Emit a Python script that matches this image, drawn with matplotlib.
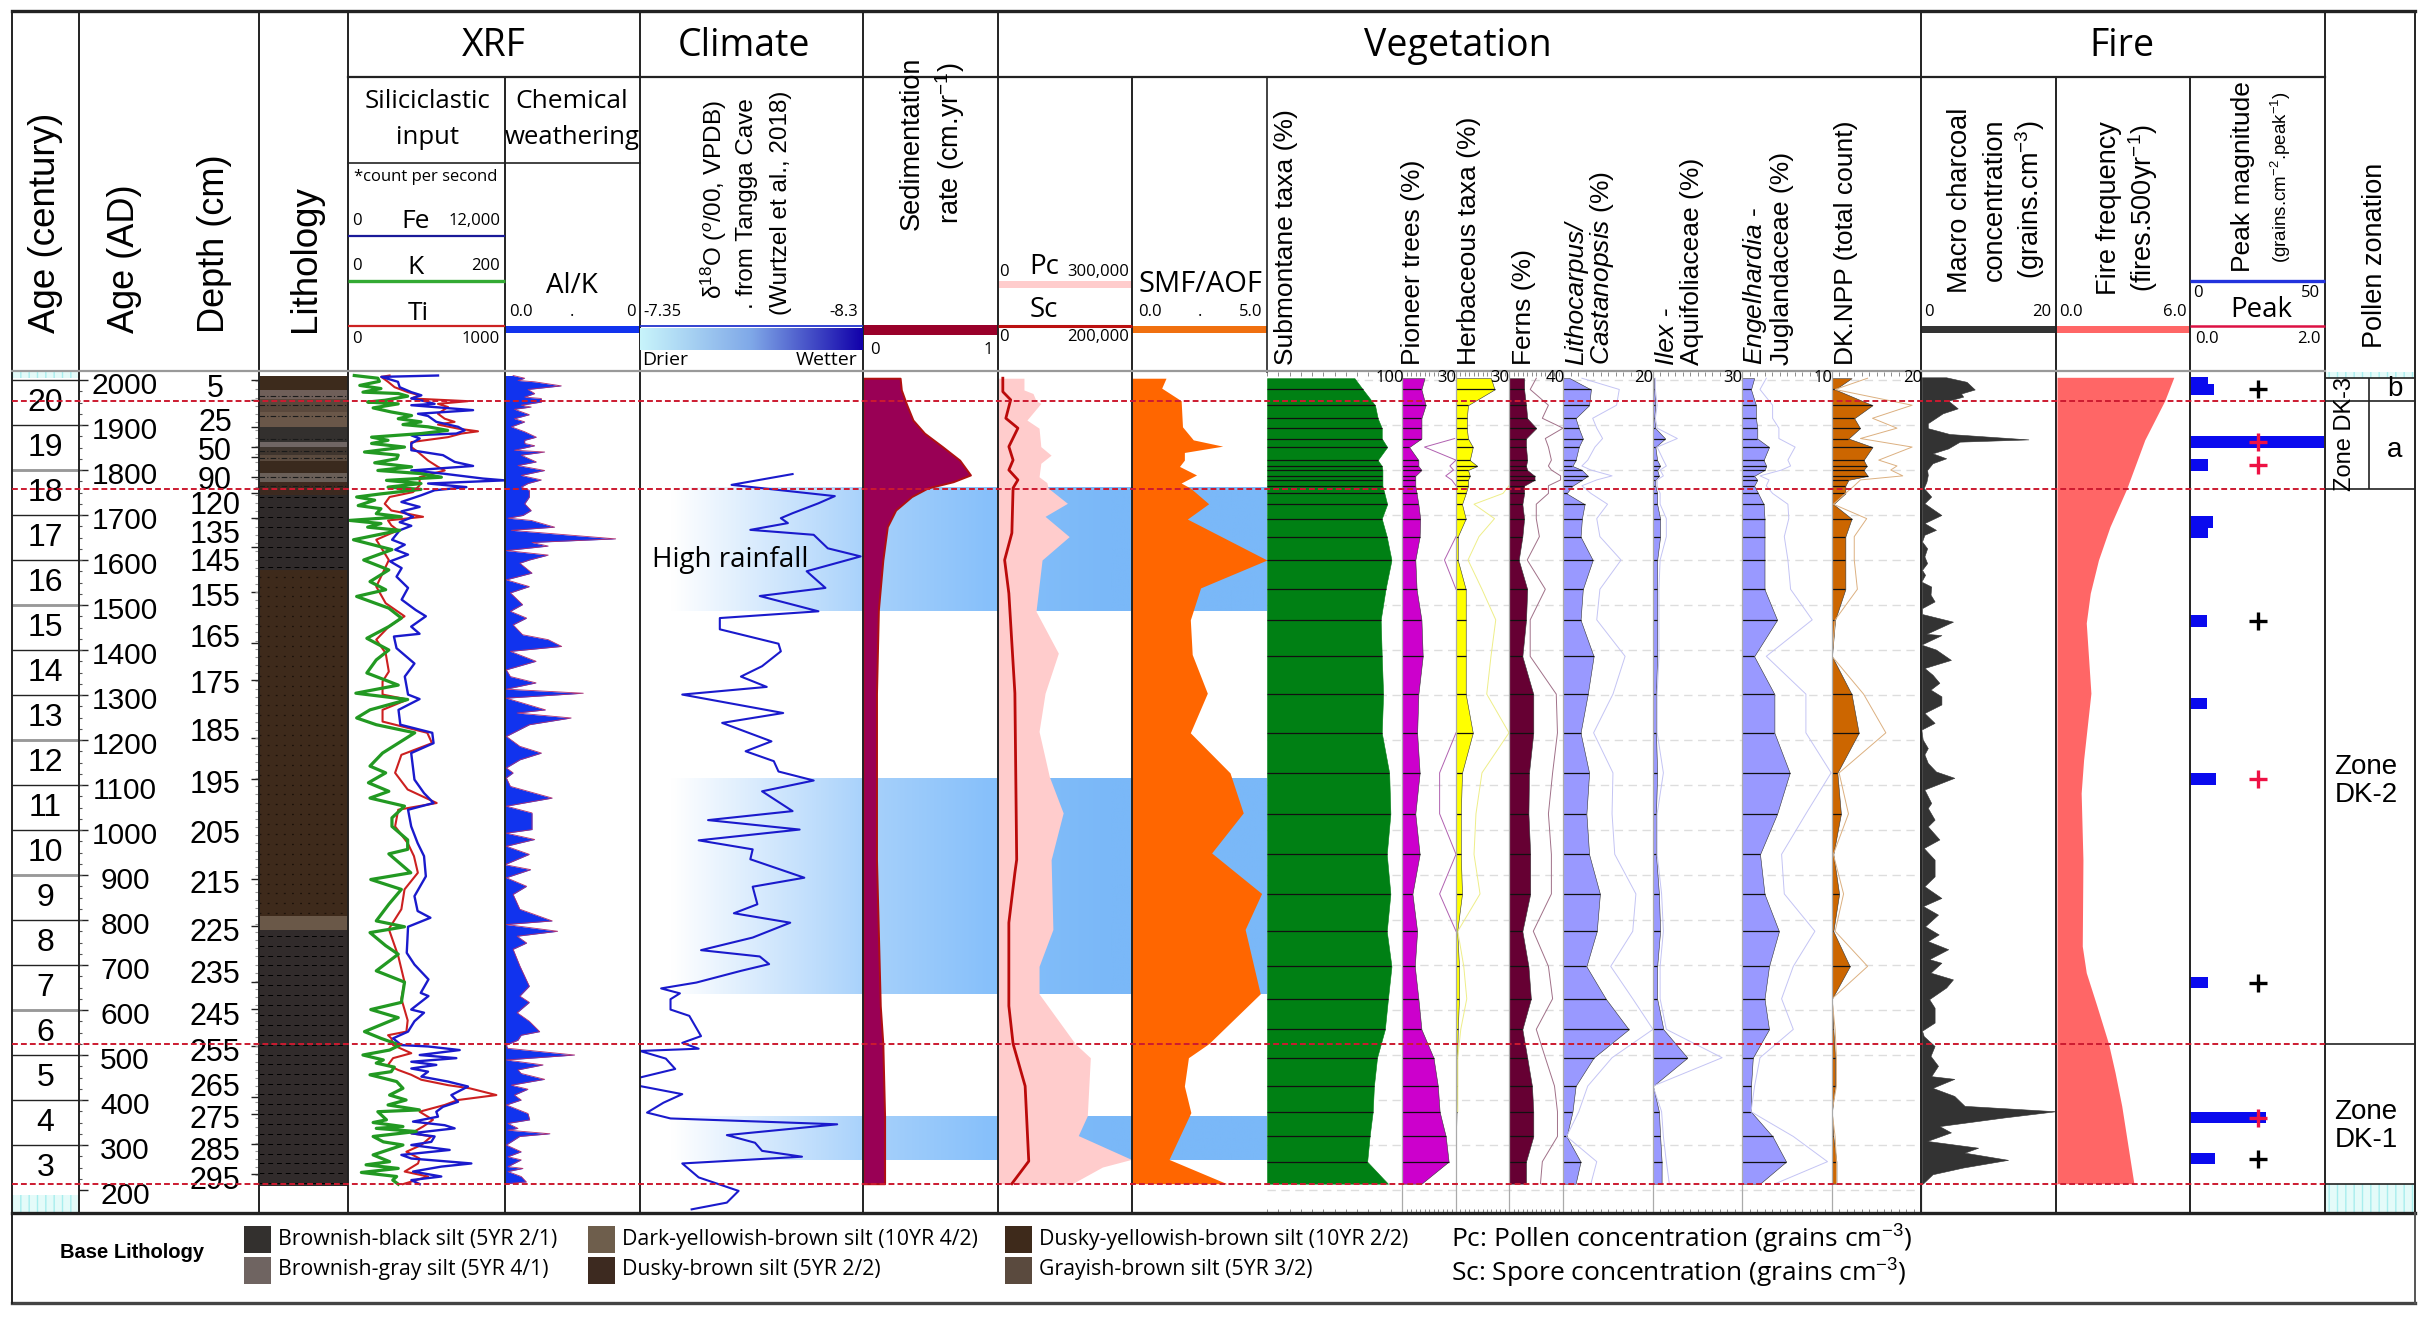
import numpy as np
import matplotlib
matplotlib.use('Agg')
import matplotlib.pyplot as plt
from matplotlib.colors import LinearSegmentedColormap
from matplotlib.patches import Rectangle

plt.rcParams['font.family'] = ['Open Sans', 'DejaVu Sans']
plt.rcParams['mathtext.fontset'] = 'custom'
plt.rcParams['mathtext.rm'] = 'Liberation Sans'
plt.rcParams['mathtext.it'] = 'Liberation Sans:italic'
plt.rcParams['mathtext.bf'] = 'Liberation Sans:bold'

W, H = 2423, 1319
AGE_TOP, AGE_BOTTOM = 2017.8, 148.9

# XRF
fe_age = [2010, 2007, 1996, 1984, 1973, 1966, 1959, 1953, 1947, 1944, 1933, 1925, 1920, 1907, 1896, 1888, 1881, 1877, 1870, 1859,
          1844, 1833, 1818, 1809, 1799, 1792, 1781, 1777, 1770, 1762, 1755, 1744, 1729, 1718, 1708, 1696, 1684, 1676, 1666,
          1645, 1634, 1623, 1612, 1597, 1582, 1563,
          1538, 1512, 1489, 1475, 1452, 1436, 1430, 1404, 1370, 1341, 1301, 1291, 1267, 1234, 1216, 1193, 1171, 1112, 1082, 1060,
          1045, 1008, 971, 942, 897, 853, 820, 805, 785, 727, 701, 668, 638, 631, 601, 594, 575,
          552, 537, 522, 519, 511, 500, 493, 485, 478, 470, 463, 452, 441, 430, 411, 396, 385, 374, 363, 352,
          344, 337, 326, 319, 307, 300, 289, 278, 270, 259, 252, 241, 230, 222, 213]
fe = [6880, 2550, 3820, 3950, 4840, 5610, 4840, 5860, 6620, 4840, 9560, 5350, 6120, 6750, 8410, 8920, 8280, 4840, 5480, 4840,
      4840, 7260, 8150, 9560, 4840, 7260, 10320, 11980, 6120, 9050, 6620, 5610, 4080, 5480, 4080, 4970, 3950, 4840, 3950,
      3370, 4340, 3610, 4590, 3220, 4100, 3710,
      4590, 4100, 5170, 5950, 4830, 5470, 3510, 3710, 5080, 4340, 4590, 5470, 3860, 4000, 6440, 6540, 4830, 5080, 5810, 6540,
      4590, 4830, 5320, 5810, 5950, 5080, 5320, 6300, 4590, 4490, 5080, 6150, 5560, 6150, 4830, 5810, 5080,
      4590, 3440, 4080, 6120, 8540, 5480, 8280, 4840, 6750, 4840, 6120, 5610, 7640, 9170, 7900, 8410, 7260, 6750, 6880, 4970,
      7390, 8150, 4840, 6620, 6370, 4840, 7770, 4080, 4840, 9430, 7130, 4970, 7130, 4840, 5480]

ti_age = [2010, 2007, 1996, 1984, 1973, 1966, 1959, 1953, 1947, 1940, 1925, 1914, 1907, 1901, 1892, 1886, 1881, 1873, 1862, 1851,
          1840, 1821, 1807, 1799, 1784, 1766, 1751, 1740, 1725, 1710, 1696, 1688, 1677, 1666,
          1645, 1600, 1570, 1541, 1504, 1475, 1452, 1423, 1393, 1352, 1330, 1301, 1290, 1267, 1241, 1216, 1193, 1167, 1127, 1090,
          1060, 1045, 1008, 971, 942, 905, 868, 824, 780, 720, 662, 625, 577,
          552, 544, 537, 522, 504, 493, 478, 467, 456, 445, 433, 426, 411, 400, 389, 374, 356, 341, 326, 319,
          300, 285, 270, 259, 241, 230, 213]
ti = [265, 212, 255, 297, 382, 456, 403, 764, 573, 637, 573, 616, 679, 573, 701, 828, 722, 637, 403, 403,
      446, 510, 573, 616, 456, 456, 414, 265, 234, 276, 478, 255, 276, 318,
      180, 260, 220, 180, 240, 360, 260, 180, 240, 260, 220, 220, 380, 220, 220, 505, 535, 340, 300, 380,
      565, 320, 300, 380, 420, 445, 360, 340, 260, 320, 360, 340, 380,
      372, 255, 276, 287, 403, 287, 255, 318, 403, 467, 637, 775, 945, 701, 616, 456, 541, 478, 403, 531,
      467, 372, 456, 446, 361, 510, 350]

k_age = [2010, 2004, 1997, 1988, 1981, 1973, 1970, 1964, 1955, 1951, 1947, 1938, 1929, 1921, 1914, 1907, 1901, 1896, 1888, 1881,
         1873, 1866, 1859, 1851, 1840, 1833, 1825, 1816, 1807, 1799, 1792, 1784, 1777, 1770, 1762, 1757, 1747, 1740, 1733, 1721,
         1714, 1703, 1696, 1688, 1681, 1673, 1666,
         1645, 1623, 1600, 1578, 1552, 1534, 1519, 1493, 1471, 1452, 1426, 1400, 1378, 1349, 1322, 1304, 1290,
         1267, 1249, 1234, 1216, 1171, 1142, 1127, 1105, 1086, 1071, 1053, 1027, 1008, 978, 957, 947, 905, 890, 868, 835,
         798, 785, 772, 743, 724, 687, 662, 617, 601, 583,
         552, 537, 522, 511, 500, 489, 482, 473, 463, 456, 441, 426, 411, 400, 389, 378, 374, 356, 350, 341,
         337, 330, 319, 307, 300, 278, 263, 256, 248, 239, 230, 222, 213]
k = [8, 38, 40, 15, 42, 19, 64, 76, 47, 25, 64, 32, 55, 81, 64, 93, 70, 102, 127, 93,
     30, 51, 30, 72, 21, 64, 62, 34, 81, 38, 93, 119, 49, 93, 51, 93, 42, 11, 34, 13,
     42, 36, 68, 2, 42, 25, 66,
     7, 56, 20, 52, 28, 48, 11, 52, 68, 52, 24, 52, 36, 24, 64, 10, 76,
     28, 11, 36, 85, 44, 28, 48, 26, 52, 28, 72, 56, 56, 76, 76, 52, 80, 29, 68, 52,
     36, 72, 28, 48, 64, 36, 72, 68, 29, 64,
     21, 42, 66, 53, 19, 45, 36, 59, 55, 28, 62, 70, 53, 74, 51, 91, 38, 49, 32, 70,
     36, 87, 32, 45, 70, 32, 53, 23, 64, 17, 62, 57, 64]

alk_age = [2010, 2004, 1999, 1996, 1987, 1979, 1970, 1962, 1959, 1951, 1944, 1940, 1935, 1923, 1914, 1907, 1896, 1885, 1873, 1866,
           1859, 1854, 1844, 1840, 1833, 1818, 1810, 1799, 1788, 1778, 1770, 1762, 1755, 1740, 1725, 1710, 1699, 1693, 1688, 1673, 1666,
           1647, 1639, 1631, 1621, 1611, 1600, 1593, 1571, 1556, 1541, 1527, 1501,
           1486, 1471, 1456, 1434, 1423, 1408, 1397, 1375, 1356, 1341, 1327, 1313, 1304, 1293, 1267, 1260, 1249, 1234, 1208, 1186,
           1171, 1156, 1138, 1127, 1116, 1097, 1071, 1053, 1038, 1001, 993, 979, 964, 946, 923, 912, 894, 875, 857, 824,
           798, 790, 775, 764, 749, 735, 698, 653, 631, 617, 594, 575,
           552, 544, 533, 522, 515, 500, 489, 478, 467, 459, 446, 433, 424, 411, 400, 389, 370, 356, 348, 337,
           333, 325, 319, 300, 285, 274, 267, 252, 248, 241, 230, 218, 214]
alk = [.06, .146, .096, .22, .417, .17, .22, .146, .269, .269, .12, .194, .07, .18, .07, .146, .047, .146, .232, .146,
       .146, .22, .07, .294, .12, .232, .096, .294, .12, .269, .17, .12, .18, .18, .146, .194, .133, .022, .194, .368, .047,
       .82, .20, .32, .01, .32, .18, .11, .20, .01, .18, .04, .13,
       .04, .16, .06, .13, .32, .42, .04, .23, .01, .04, .23, .01, .58, .01, .30, .09, .49, .18, .01, .11,
       .27, .11, .01, .06, .01, .04, .35, .01, .20, .20, .01, .22, .01, .18, 0, .19, .01, .16, .06, .11,
       .35, .01, .39, .09, .16, .06, .11, .18, .11, .18, .09, .18,
       .257, .12, .096, .01, .02, .516, .01, .282, .096, .12, .294, .047, .17, .07, .12, .01, .17, .183, .022, .096,
       .022, .333, .108, .01, .12, .022, .12, .022, .133, .022, .12, .158, .01]

# Climate
d18o_age = [1791, 1767, 1742, 1726, 1704, 1693, 1682, 1667, 1656, 1626, 1608, 1575, 1538, 1520, 1486, 1471, 1446, 1414, 1397, 1364,
            1341, 1318, 1301, 1260, 1238, 1197, 1175, 1153, 1130, 1110, 1086, 1042, 1022, 1001, 977, 957, 935, 894, 874, 835,
            815, 794, 761, 733, 719, 702, 687, 661, 648, 637, 624, 601, 587, 542, 527, 514, 509, 492, 469, 450,
            431, 413, 394, 372, 359, 346, 322, 305, 287, 274, 259, 228, 198, 172, 157]
d18o = [-8.0, -7.74, -8.18, -8.11, -8.0, -7.95, -7.98, -7.82, -8.09, -8.15, -8.29, -8.06, -8.14, -7.86, -8.11, -7.69, -7.69, -7.94, -7.95, -7.87,
        -7.78, -7.89, -7.53, -7.96, -7.70, -7.91, -7.80, -7.92, -7.94, -8.09, -7.87, -8.0, -7.64, -8.03, -7.60, -7.83, -7.82, -8.05, -7.83, -7.85,
        -7.75, -7.99, -7.83, -7.61, -7.86, -7.90, -7.78, -7.59, -7.44, -7.52, -7.48, -7.48, -7.56, -7.61, -7.53, -7.60, -7.35, -7.46, -7.50, -7.35,
        -7.35, -7.53, -7.45, -7.38, -7.48, -8.19, -7.72, -7.84, -7.87, -8.04, -7.53, -7.60, -7.77, -7.72, -7.57]
rain_top = [1760, 1116, 363]
rain_bottom = [1486, 636, 267]

# Sedimentation rate
sed_age = [2004, 1978, 1948, 1911, 1882, 1852, 1822, 1789, 1774, 1760, 1741, 1711, 1674, 1600, 1489, 1304, 934, 609, 525, 364, 214]
sed = [.275, .284, .32, .37, .455, .588, .716, .796, .668, .479, .36, .242, .18, .147, .114, .10, .10, .128, .147, .16, .16]

# Pollen and spore concentration
pc_age = [2004, 1978, 1970, 1954, 1948, 1911, 1893, 1852, 1833, 1815, 1785, 1772, 1760, 1726, 1697, 1652, 1600, 1486, 1393, 1304,
          1219, 1119, 1038, 934, 779, 697, 636, 525, 494, 365, 321, 268, 251, 214]
pc = [58100, 58100, 78400, 85100, 95900, 64800, 91900, 95900, 118900, 95900, 91900, 109400, 112100, 155400, 105400, 159400, 98600, 85100, 135100, 105400,
      91900, 114800, 145900, 118900, 122900, 91900, 91900, 172900, 206700, 199900, 179700, 298600, 233700, 166200]
sc_age = [2004, 1974, 1956, 1915, 1893, 1852, 1822, 1800, 1778, 1760, 1660, 1600, 1526, 1304, 934, 905, 794, 609, 525, 431, 264, 214]
sc = [7200, 7200, 18900, 11700, 29700, 16200, 22500, 16200, 29700, 22500, 20700, 9900, 16200, 25200, 27900, 25200, 16200, 16200, 22500, 40500, 45900, 20700]

smf_age = [2004, 1982, 1954, 1896, 1867, 1853, 1839, 1822, 1808, 1789, 1771, 1760, 1725, 1691, 1600, 1538, 1467, 1390, 1304, 1216,
           1127, 1038, 949, 859, 779, 636, 525, 494, 431, 372, 268, 214]
smf = [1.26, 1.10, 1.82, 1.87, 2.27, 3.36, 1.94, 1.94, 1.76, 2.39, 1.82, 2.16, 2.84, 2.05, 5.0, 2.54, 2.16, 2.23, 2.79, 2.16,
       3.63, 4.12, 2.95, 4.80, 4.19, 4.75, 2.84, 2.09, 1.94, 2.18, 1.37, 3.51]

# Pollen percentages, all on the same samples
pollen_age = [2004, 1979, 1944, 1915, 1893, 1870, 1851, 1822, 1809, 1800, 1787, 1778, 1765, 1748, 1724, 1692, 1652, 1600, 1535, 1467,
              1386, 1302, 1216, 1127, 1036, 946, 858, 775, 697, 625, 557, 494, 431, 374, 319, 263, 214]
submontane = [64.8, 71, 80, 82, 85, 85, 89, 82, 85, 85.5, 85.5, 85.5, 85.5, 87, 89, 85, 88.7, 92.2, 87.8, 84.2,
              85, 86, 85, 90.5, 91.4, 88.7, 91.4, 88.7, 92.2, 89.6, 87.3, 81.5, 79.2, 78.3, 76, 74.2, 89.6]
pioneer = [12.5, 10.8, 13.1, 10.8, 10.8, 10.8, 4, 9.1, 9.1, 10.8, 7.4, 7.4, 7.4, 8.1, 9.1, 10.1, 9.8, 7.4, 8.1, 10.8,
           11.5, 9.1, 8.4, 9.8, 7.4, 9.8, 5.8, 8.4, 7.1, 9.1, 10.8, 17.5, 19.9, 20.9, 24.3, 25.9, 10.8]
herb = [19.8, 21.8, 6.8, 6.1, 6.1, 6.8, 9.5, 7.8, 12, 6.8, 7.8, 6.8, 6.8, 5.5, 3.4, 5.5, 1, 1, 5.5, 5.5,
        5.5, 5.5, 9.5, 3.4, 2.7, 2.7, 3.4, .7, 1.7, 1.7, 1, .7, .7, .3, 0, 0, 0]
ferns = [11.2, 11.2, 12.6, 13.5, 20.2, 12.6, 12.6, 13.5, 12.6, 13.5, 18.9, 18.9, 11.2, 11.2, 9.9, 11.2, 9.9, 7.2, 13.5, 12.6,
         9.9, 18, 18, 14.8, 14.4, 15.7, 15.7, 9.9, 14.4, 16.2, 9.9, 13.5, 17, 18, 18, 12.6, 12.6]
litho = [1.5, 6.2, 5.8, 2.8, 3.5, 4.4, 3.5, 2.8, 2.1, 4.2, 5.5, 4.2, 2.1, .8, 4.8, 4.2, 3.9, 6.6, 4.4, 3.9,
         6.8, 5.5, 3.9, 5.8, 5.2, 5.8, 8.2, 7.5, 5.2, 9.5, 14.6, 6.8, 2.8, 2.1, .8, 3.9, 2.8]
ilex = [.4, .4, .8, .4, .8, 4.1, .8, 1.4, 2.4, 1.4, 2, .8, .8, 1.4, 1.4, 2.4, 2.4, 1.4, 1.4, 1.4,
        1.4, 1, 1, 1.4, 1, 1, 2, 2.4, 1.4, 1.4, 3.5, 11.6, 0, 2, 2.4, 2.9, 2.9]
engel = [1.35, 1, 1.55, 1.55, 1.7, 1.7, 3, 2.4, 2.7, 2.5, 1.35, 1.7, 1.35, 1.8, 2.4, 2.5, 2.5, 2.5, 2.5, 3.9,
         1.35, 3.6, 3.6, 5.3, 3.9, 2, 2.5, 4.1, 3, 2.5, 3, 1.2, 1, 1, 3.4, 4.9, 2]
dknpp = [4.4, .7, 9.1, 5, 6.3, 3.7, 9.1, 7.1, 7.8, 7.1, 8, 3.7, 3, 3, .3, 4.4, 3, 3, 3, .7,
         0, 4.4, 6, 1.2, 2, .3, 1.6, .3, 4, 0, .3, .7, .7, 0, .3, 1, 1]

# exaggerated outlines, nan where they run off the panel
nan = float('nan')
pioneer_x = [nan, nan, nan, nan, nan, 29.3, 12.5, 30, 26.6, 28.6, 24.3, 27.6, 30, nan, nan, nan, 30, 23.6, 30, nan,
             nan, nan, 30, 20.9, 20.9, 30, 20.9, 30, nan, nan, nan, nan, nan, nan, nan, nan, nan]
herb_x = [nan, nan, 30, nan, nan, nan, nan, nan, nan, nan, nan, nan, 30, 26.6, 10.2, 21.8, 13, 6.8, 14.7, 22.5,
          19.8, 17.4, 30, 14.7, 11.3, 10.2, 13.6, 1, 4.4, 6.1, 2.7, 1, 1, 1, nan, nan, nan]
ferns_x = [20.2, 15.7, 29.2, 24.7, 40, 26.9, 29.2, 31.4, 29.2, 31.4, 38.2, 38.2, 29.2, 29.2, 20.2, 20.2, 22.5, 13.5, 26.9, 15.7,
           15.7, 35, 35.9, 32.3, 29.2, 31.4, 31.4, 18, 29.2, 32.3, 20.2, 26.9, 33.7, 35.9, 35.9, 24.7, 23.3]
litho_x = [4.2, 12.5, 11.9, 6.6, 7.5, 8.8, 7.1, 5.5, 4.2, 6.2, 10.9, 7.5, 4.2, 6.2, 9.9, 7.5, 8.2, 12.9, 8.2, 7.5,
           13.8, 11.1, 6.8, 11.1, 10.9, 11.5, 16.2, 15.5, 10.6, 15.5, 20, 10.9, 5.5, 3.5, .8, 7.5, 6.2]
ilex_x = [.8, .8, 1.4, .8, 1.4, 8.2, 1.4, 3.5, 4.5, 2.4, 3.5, 1.4, 1.4, 2.4, 2.4, 4.5, 4.5, 2.4, 2, 2,
          2, 1.4, 1.4, 3.5, 1.4, 1.4, 2.9, 3.5, 2.4, 2.4, 4.5, 23.3, 0, 2.9, 3.5, 4.5, 5.5]
engel_x = [2.7, 2, 3.4, 3.4, 4.1, 4.1, 5.9, 5.1, 5.4, 4.4, 2, 3, 2.7, 3.4, 5.1, 5.2, 4.7, 5.1, 5.4, 7.8,
           2.7, 7.1, 7.1, 9.9, 7.1, 4.4, 4.7, 8.1, 5.7, 4.4, 5.7, 2, 1.4, 1, 5.7, 9.5, 3.7]
dknpp_x = [8, .7, 18, 9.1, 14.6, 6.4, 18, 10.5, 14.6, 13.2, 15.9, 6.4, 5, 3, .3, 7.8, 5, 5, 5.7, .7,
           0, 7.1, 12.1, 1.6, 3.7, .3, 2.6, .7, 8, 0, .7, 1, 1, 0, .7, 1, 1]

# Fire
charcoal_age = [2006, 1996, 1979, 1970, 1963, 1954, 1937, 1926, 1904, 1893, 1880, 1868, 1863, 1848, 1837, 1826, 1815, 1800, 1789, 1774,
                1760, 1741, 1726, 1700, 1682, 1667, 1656, 1641, 1626, 1608, 1593, 1578, 1567, 1552, 1541, 1523, 1508, 1493, 1480, 1463,
                1436, 1433, 1412, 1401, 1378, 1360, 1345, 1327, 1312, 1297, 1279, 1260, 1238, 1223, 1201, 1182, 1168, 1149, 1130, 1116,
                1090, 1060, 1049, 1023, 1008, 979, 960, 934, 897, 875, 849, 831, 812, 786, 768, 753, 735, 713, 705, 683,
                668, 650, 624, 605, 572, 554, 542, 520, 498, 476, 453, 447, 427, 409, 387, 375, 361, 342, 328, 309,
                294, 283, 267, 250, 235, 214]
charcoal = [3.7, 6.7, 7.9, 5.9, 6.2, 4, 5.4, 3.2, 1, 1, 4.2, 15.8, 5.7, 4, 1.7, 3.7, 1.7, .9, 1, .8,
            .4, 1.5, .5, 3, .5, 2.2, .5, .15, .9, .5, .9, .15, .6, .05, 1.5, 1.4, 2, .15, .15, 4.7,
            .8, 3, .05, 2.2, 4.4, .5, 1.7, 2.7, 1.4, 3, 3, .5, 2, .05, .25, 1, .5, 1, 2.2, 4.9,
            .5, 1.5, 1, 2, 1, 2.7, .4, 2, 2, .5, 3, .3, 2.5, .6, 2.6, 1, 4, 1.2, 3, 1.4,
            4.7, 3.7, 1.2, 2, 2, .15, .4, 2, 1.4, 2.5, 1.5, 4.9, 1.7, 4.9, 6.4, 19.8, 12.1, 2.7, 4.4, .9,
            8.4, 6.4, 12.8, 6.2, 1.7, .25]
firefreq_age = [2006, 1954, 1867, 1758, 1674, 1600, 1526, 1460, 1304, 1156, 1082, 934, 742, 683, 609, 526, 461, 387, 214]
firefreq = [5.27, 4.86, 3.96, 3.14, 2.39, 1.87, 1.50, 1.32, 1.53, 1.20, 1.09, 1.17, 1.14, 1.32, 1.80, 2.32, 2.62, 2.92, 3.47]
peak_age = [1993, 1979, 1862, 1811, 1684, 1663, 1465, 1281, 1114, 661, 361, 270]
peak_mag = [6.7, 8.9, 49.6, 6.7, 8.5, 6.7, 6.4, 6.3, 9.8, 6.7, 28, 9.3]
plus_black = [1979, 1465, 661, 270]
plus_red = [1862, 1811, 1114, 361]

# Lithology layers
layer_top = [2009, 1978, 1957, 1930, 1896, 1863, 1851, 1834, 1819, 1794, 1774, 1745, 1578, 809, 778]
layer_bottom = [1978, 1957, 1930, 1896, 1863, 1851, 1834, 1819, 1794, 1774, 1745, 1578, 809, 778, 209]
layer_color = ['#3d2b1c', '#6f5f59', '#5a483c', '#6a5749', '#33302e', '#706664', '#3f352e', '#5a4a3e', '#3a2a1e', '#6a5f58',
               '#3d2a20', '#2f2a2a', '#3e2a1b', '#6a5848', '#312b2b']

# Axis labels
age_ticks = list(range(200, 2100, 100))
century_labels = list(range(3, 21))
depth_labels = [5, 25, 50, 90, 120, 135, 145, 155, 165, 175, 185, 195, 205, 215, 225, 235, 245, 255, 265, 275, 285, 295]
depth_label_age = [1980, 1905, 1840, 1776, 1720, 1656, 1594, 1516, 1424, 1322, 1216, 1100, 989, 878, 771, 678, 584, 504, 427, 356, 284, 220]
depth_tick_age = [2000, 1956, 1896, 1852, 1830, 1785, 1748, 1693, 1630, 1530, 1415, 1334, 1204, 1113, 892, 787, 662, 603, 521, 406, 369, 302, 236]
zone_age = [1954, 1758, 524, 213]

fig = plt.figure(figsize=(W / 100, H / 100), dpi=100, facecolor='white')


def panel(x0, x1, xlim, y0=372, y1=1213, z=2):
    ax = fig.add_axes([x0 / W, 1 - y1 / H, (x1 - x0) / W, (y1 - y0) / H])
    ax.set_xlim(*xlim)
    ax.set_ylim(AGE_BOTTOM, AGE_TOP)
    ax.patch.set_alpha(0)
    for s in ax.spines.values():
        s.set_visible(False)
    ax.set_xticks([])
    ax.set_yticks([])
    ax.set_zorder(z)
    return ax


# rainfall bands behind everything from Climate to SMF/AOF
rain_cmap = LinearSegmentedColormap.from_list('rain', [(0, '#ffffff'), (.05, '#ffffff'), (.355, '#a9d2fb'), (.57, '#85bffa'), (.75, '#7ab8f8'), (1, '#7ab8f8')])
ax_rain = panel(640, 1267, (0, 1), z=1)
for t, b in zip(rain_top, rain_bottom):
    ax_rain.imshow(np.linspace(0, 1, 256)[None, :], cmap=rain_cmap, aspect='auto', extent=(0, 1, b, t))
ax_rain.set_xlim(0, 1)
ax_rain.set_ylim(AGE_BOTTOM, AGE_TOP)

# century columns
ax_cent = panel(12, 79, (0, 1))
ax_cent.hlines(age_ticks[1:], 0, 1, color='#222222', lw=1)
ax_cent.hlines([1800, 1500, 1200, 900, 600], 0, 1, color='#999999', lw=2)
for c in century_labels:
    ax_cent.text(.5, c * 100 - 50, str(c), ha='center', va='center', fontsize=23, family='Liberation Sans')
ax_cent.add_patch(Rectangle((0, 2004), 1, 14, fc='#e4fbf9', ec='#a8eeee', hatch='||', lw=0))
ax_cent.add_patch(Rectangle((0, AGE_BOTTOM), 1, 41, fc='#e4fbf9', ec='#a8eeee', hatch='||', lw=0))

# age and depth scales
ax_age = panel(79, 259, (0, 180))
ax_age.hlines(age_ticks, 0, 9, color='#222222', lw=1)
ax_age.hlines(np.arange(225, 2000, 25), 0, 3, color='#555555', lw=.8)
for a in age_ticks:
    ax_age.text(46, a - 14, str(a), ha='center', va='center', fontsize=21.5, family='Liberation Sans')
for d, a in zip(depth_labels, depth_label_age):
    ax_age.text(136, a, str(d), ha='center', va='center', fontsize=22, family='Liberation Sans')
ax_age.hlines(depth_tick_age, 172, 180, color='#222222', lw=1)
ax_age.hlines(np.arange(215, 2000, 18), 176, 180, color='#999999', lw=.8)

# lithology
ax_lith = panel(259, 348, (0, 1))
ax_lith.barh([(t + b) / 2 for t, b in zip(layer_top, layer_bottom)], 1,
             height=[t - b for t, b in zip(layer_top, layer_bottom)], color=layer_color)
ax_lith.hlines(np.arange(1585, 1745, 22), 0, 1, color='black', lw=.7, ls=(0, (5, 4)))
ax_lith.hlines(np.arange(215, 778, 22), 0, 1, color='black', lw=.7, ls=(0, (5, 4)))
ax_lith.hlines(np.arange(815, 1578, 22), 0, 1, color='#1c120a', lw=.9, ls=(0, (1.5, 5)))
ax_lith.hlines([1965, 1945, 1920, 1870, 1842, 1826, 1785, 1765], 0, 1, color='#1a1a1a', lw=.8, ls=(0, (5, 2, 1, 2)))

# XRF
ax_ti = panel(348, 505, (0, 1000), z=3)
ax_ti.plot(ti, ti_age, color='#cc2020', lw=1.5)
ax_fe = panel(348, 505, (0, 12000), z=3)
ax_fe.plot(fe, fe_age, color='#1a1acc', lw=1.7)
ax_k = panel(348, 505, (0, 200), z=3)
ax_k.plot(k, k_age, color='#229922', lw=2.3)

ax_alk = panel(505, 640, (0, 1))
ax_alk.fill_betweenx(alk_age, 0, alk, color='#1133ee', lw=0)
ax_alk.plot(alk, alk_age, color='#b03070', lw=.6)

# Climate
ax_clim = panel(640, 863, (-7.35, -8.3))
ax_clim.plot(d18o, d18o_age, color='#1a1acc', lw=1.5)

# Sedimentation rate
ax_sed = panel(863, 998, (0, 1))
ax_sed.fill_betweenx(sed_age, 0, sed, facecolor='#990055', edgecolor='#b01010', lw=1.4)

# Concentrations
ax_pc = panel(998, 1132, (0, 300000))
ax_pc.fill_betweenx(pc_age, 0, pc, color='#ffcccc', lw=0)
ax_sc = panel(998, 1132, (0, 200000))
ax_sc.plot(sc, sc_age, color='#bb0a0a', lw=2)

ax_smf = panel(1132, 1267, (0, 5))
ax_smf.fill_betweenx(smf_age, 0, smf, color='#ff6600', lw=0)

# Vegetation
ax_guides = panel(1267, 1922, (0, 1), z=1.5)
ax_guides.hlines(age_ticks, 0, 1, color='#dddddd', lw=1, ls=(0, (6, 4)))

taxa = [
    (1267, 1402, 100, submontane, None, '#008014', '#000000'),
    (1402, 1456, 30, pioneer, pioneer_x, '#cc00cc', '#b060b0'),
    (1456, 1509, 30, herb, herb_x, '#ffff00', '#eeee88'),
    (1509, 1563, 40, ferns, ferns_x, '#660033', '#a07088'),
    (1563, 1653, 20, litho, litho_x, '#9999ff', '#c4c4f4'),
    (1653, 1742, 30, ilex, ilex_x, '#9999ff', '#c4c4f4'),
    (1742, 1832, 10, engel, engel_x, '#9999ff', '#c4c4f4'),
    (1832, 1921, 20, dknpp, dknpp_x, '#cc6600', '#dcb080'),
]
for x0, x1, xmax, vals, exag, col, exag_col in taxa:
    ax = panel(x0, x1, (0, xmax))
    ax.fill_betweenx(pollen_age, 0, vals, facecolor=col, edgecolor='#333333' if xmax != 100 else col, lw=.4)
    ax.hlines(pollen_age[1:-1], 0, vals[1:-1], color='#111111', lw=.9)
    if exag is not None:
        ax.plot(exag, pollen_age, color=exag_col, lw=.7)
    if xmax != 100:
        ax.spines['left'].set_visible(True)
        ax.spines['left'].set_color('#aaaaaa')
        ax.spines['left'].set_linewidth(.9)
    ax.xaxis.set_ticks_position('both')
    ax.set_xticks(np.linspace(0, xmax, 13))
    ax.set_xticklabels([])
    ax.tick_params(axis='x', direction='in', length=3, width=.6, color='#777777')

# Fire
ax_char = panel(1921, 2057, (0, 20))
ax_char.fill_betweenx(charcoal_age, 0, charcoal, color='#333333', lw=.4)
ax_char.axvline(0, color='#aaaaaa', lw=1)

ax_freq = panel(2057, 2190, (0, 6))
ax_freq.fill_betweenx(firefreq_age, 0, firefreq, color='#ff6666', lw=0)

ax_peak = panel(2190, 2325, (0, 50))
ax_peak.barh(peak_age, peak_mag, height=26, color='#0a0aee')
ax_plus = panel(2190, 2325, (0, 2), z=3)
ax_plus.scatter([1] * len(plus_black), plus_black, marker='+', s=170, color='black', linewidths=2.4)
ax_plus.scatter([1] * len(plus_red), plus_red, marker='+', s=170, color='#ee1144', linewidths=2.4)

# Pollen zonation
ax_zone = panel(2325, 2415, (0, 90))
ax_zone.add_patch(Rectangle((0, 2004), 90, 14, fc='#e4fbf9', ec='#a8eeee', hatch='||', lw=0))
ax_zone.add_patch(Rectangle((0, AGE_BOTTOM), 90, 213 - AGE_BOTTOM, fc='#e4fbf9', ec='#a8eeee', hatch='||', lw=0))
ax_zone.hlines([2004, 1954, 1758, 524, 213], 0, 90, color='#222222', lw=1.2)
ax_zone.vlines(44, 1758, 2004, color='#222222', lw=1.2)
ax_zone.text(20, 1880, 'Zone DK-3', rotation=90, ha='center', va='center', fontsize=17, family='Liberation Sans')
ax_zone.text(70, 1979, 'b', ha='center', va='center', fontsize=20, family='Liberation Sans')
ax_zone.text(70, 1845, 'a', ha='center', va='center', fontsize=20, family='Liberation Sans')
ax_zone.text(41, 1110, 'Zone\nDK-2', ha='center', va='center', fontsize=20, family='Liberation Sans', linespacing=1.1)
ax_zone.text(41, 342, 'Zone\nDK-1', ha='center', va='center', fontsize=20, family='Liberation Sans', linespacing=1.1)

# zone boundaries over all columns
ax_red = panel(12, 2325, (0, 1), z=6)
ax_red.hlines(zone_age, 0, 1, color='#cc1a30', lw=1.4, ls=(0, (3, 1.6)))

# frame and header, in pixels
frame = fig.add_axes([0, 0, 1, 1], zorder=5)
frame.set_xlim(0, W)
frame.set_ylim(H, 0)
frame.axis('off')
frame.patch.set_alpha(0)


def T(x, y, s, size=16, **kw):
    kw.setdefault('ha', 'center')
    kw.setdefault('va', 'center')
    frame.text(x, y, s, fontsize=size, **kw)


def R(x, y, s, size=20, bottom=False, **kw):
    # rotated header label, anchored at its lower end or its middle
    kw.setdefault('family', 'Liberation Sans')
    frame.text(x, y, s, rotation=90, ha='center', va='bottom' if bottom else 'center', fontsize=size, **kw)


for x in [12, 79, 259, 348, 640, 863, 998, 1921, 2325, 2415]:
    frame.plot([x, x], [11, 1213], color='#222222', lw=1.4)
for x in [505, 1132, 2056, 2190]:
    frame.plot([x, x], [77, 1213], color='#222222', lw=1.4)
frame.plot([1267, 1267], [77, 372], color='#222222', lw=1.2)
frame.plot([348, 2325], [77, 77], color='#222222', lw=1.6)
frame.plot([348, 640], [163, 163], color='#222222', lw=1.2)
frame.plot([12, 2415], [11, 11], color='#222222', lw=2.4)
frame.plot([12, 2415], [1213, 1213], color='#222222', lw=2.4)
frame.plot([12, 2325], [371, 371], color='#999999', lw=1.6)
frame.plot([12, 2415], [1303, 1303], color='#444444', lw=2.4)
frame.plot([12, 12], [1213, 1303], color='#222222', lw=1.4)
frame.plot([2415, 2415], [1213, 1303], color='#555555', lw=1.4)

for x, s in [(494, 'XRF'), (744, 'Climate'), (1458, 'Vegetation'), (2122, 'Fire')]:
    T(x, 46, s, size=27)

R(46, 333, 'Age (century)', 26.5, True)
R(125, 333, 'Age (AD)', 26, True)
R(215, 333, 'Depth (cm)', 26, True)
R(305, 332, 'Lithology', 26.5, True)

T(428, 102, 'Siliciclastic', 18.5)
T(428, 137, 'input', 18.5)
T(572, 102, 'Chemical', 19)
T(572, 137, 'weathering', 18.5)
T(426, 177, '*count per second', 12)
T(416, 222, 'Fe', 19)
T(357, 221, '0', 12)
T(475, 221, '12,000', 12)
T(416, 267, 'K', 19)
T(357, 266, '0', 12)
T(486, 266, '200', 12)
T(418, 313, 'Ti', 19)
T(357, 339, '0', 12)
T(481, 339, '1000', 12)
T(572, 286, 'Al/K', 20)
T(521, 312, '0.0', 12)
T(572, 312, '.', 12)
T(631, 312, '0', 12)
T(662, 312, '-7.35', 12)
T(844, 312, '-8.3', 12)
T(665, 360, 'Drier', 14)
T(827, 360, 'Wetter', 14)
T(875, 350, '0', 12)
T(988, 350, '1', 12)
T(730, 560, 'High rainfall', 20)

R(714, 200, 'δ$^{18}$O ($^{o}$/00, VPDB)', 17.5)
R(747, 204, '. from Tangga Cave', 17.5)
R(781, 203, '(Wurtzel et al., 2018)', 17.5)
R(912, 143, 'Sedimentation', 19.5)
R(950, 143, 'rate (cm.yr$^{-1}$)', 19.5)

T(1004, 272, '0', 12)
T(1044, 267, 'Pc', 20)
T(1098, 272, '300,000', 12)
T(1044, 310, 'Sc', 20)
T(1004, 337, '0', 12)
T(1098, 337, '200,000', 12)
T(1200, 285, 'SMF/AOF', 21)
T(1150, 312, '0.0', 12)
T(1200, 312, '.', 12)
T(1251, 312, '5.0', 12)

R(1286, 365, 'Submontane taxa (%)', 19, True)
R(1413, 365, 'Pioneer trees (%)', 19, True)
R(1469, 365, 'Herbaceous taxa (%)', 19, True)
R(1524, 365, 'Ferns (%)', 19, True)
R(1576, 365, 'Lithocarpus/', 19, True, style='italic')
R(1602, 365, r'$\mathit{Castanopsis}$ (%)', 19, True)
R(1667, 365, 'Ilex -', 19, True, style='italic')
R(1692, 365, 'Aquifoliaceae (%)', 19, True)
R(1755, 365, r'$\mathit{Engelhardia}$ -', 19, True)
R(1782, 365, 'Juglandaceae (%)', 19, True)
R(1846, 365, 'DK.NPP (total count)', 19, True)

for x, s in [(1390, '100'), (1447, '30'), (1500, '30'), (1555, '40'), (1644, '20'), (1733, '30'), (1823, '10'), (1913, '20')]:
    T(x, 378, s, 12)

R(1960, 200, 'Macro charcoal', 19.5)
R(1995, 200, 'concentration', 19.5)
R(2030, 200, '(grains.cm$^{-3}$)', 19.5)
R(2109, 208, 'Fire frequency', 19.5)
R(2143, 208, '(fires.500yr$^{-1}$)', 19.5)
R(2243, 177, 'Peak magnitude', 19)
R(2281, 177, '(grains.cm$^{-2}$.peak$^{-1}$)', 13.5)
R(2375, 348, 'Pollen zonation', 19.5, True)

T(1929, 312, '0', 12)
T(2042, 312, '20', 12)
T(2071, 312, '0.0', 12)
T(2175, 312, '6.0', 12)
T(2198, 293, '0', 12)
T(2311, 293, '50', 12)
T(2261, 310, 'Peak', 20)
T(2207, 339, '0.0', 12)
T(2309, 339, '2.0', 12)

# series keys in the header
for x0, x1, y, col, lw in [(348, 505, 236, '#1a1a99', 1.6), (348, 505, 281, '#33aa33', 2.4), (348, 505, 326, '#cc2222', 1.6),
                           (640, 863, 326, '#2233cc', 1.3), (998, 1132, 326, '#bb1111', 2.2), (2190, 2325, 281, '#2233dd', 2.4),
                           (2190, 2325, 326, '#dd1144', 1.8)]:
    frame.plot([x0, x1], [y, y], color=col, lw=lw, solid_capstyle='butt')
for x0, x1, y0, y1, col in [(505, 640, 326, 333, '#1133ee'), (863, 998, 325, 335, '#99002a'), (998, 1132, 281, 288, '#ffcccc'),
                            (1132, 1267, 326, 333, '#f07010'), (1921, 2056, 326, 333, '#333333'), (2056, 2190, 326, 333, '#ff6666')]:
    frame.add_patch(Rectangle((x0, y0), x1 - x0, y1 - y0, fc=col, lw=0))

clim_cmap = LinearSegmentedColormap.from_list('clim', ['#c8f4fb', '#7fa8e8', '#1100aa'])
ax_cbar = fig.add_axes([640 / W, 1 - 350 / H, 223 / W, 22 / H], zorder=6)
ax_cbar.imshow(np.linspace(0, 1, 256)[None, :], cmap=clim_cmap, aspect='auto')
ax_cbar.axis('off')

# legend
T(132, 1252, 'Base Lithology', 14.5, weight='bold', family='Liberation Sans')
legend_items = [
    (244, 1226, '#33302e', 'Brownish-black silt (5YR 2/1)'),
    (244, 1257, '#6f6461', 'Brownish-gray silt (5YR 4/1)'),
    (588, 1226, '#6e5e4c', 'Dark-yellowish-brown silt (10YR 4/2)'),
    (588, 1257, '#3d2a20', 'Dusky-brown silt (5YR 2/2)'),
    (1005, 1226, '#3e2a1b', 'Dusky-yellowish-brown silt (10YR 2/2)'),
    (1005, 1257, '#5a4a3e', 'Grayish-brown silt (5YR 3/2)'),
]
for x, y, col, s in legend_items:
    frame.add_patch(Rectangle((x, y), 27, 27, fc=col, lw=0))
    T(x + 34, y + 13, s, 15.3, ha='left')
T(1451, 1239, 'Pc: Pollen concentration (grains cm$^{-3}$)', 19, ha='left')
T(1451, 1273, 'Sc: Spore concentration (grains cm$^{-3}$)', 19, ha='left')

fig.savefig('out.png', dpi=100)
